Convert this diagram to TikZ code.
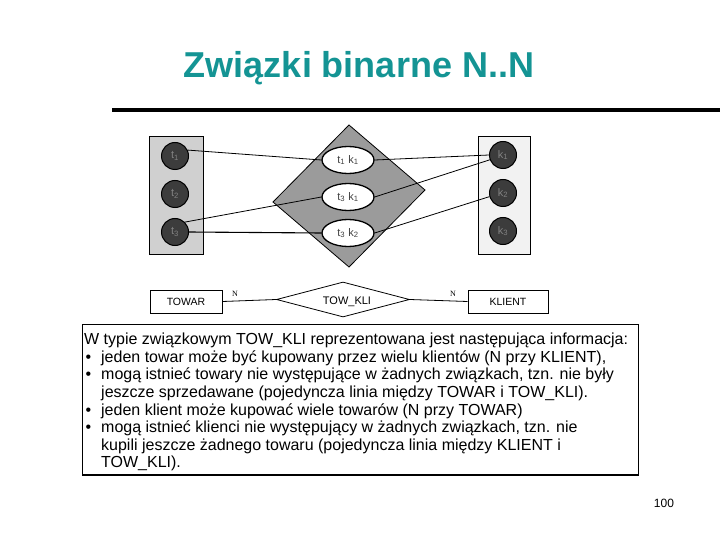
\documentclass[tikz,border=0pt]{standalone}
\usepackage{fontspec}
\setmainfont{Liberation Sans}
\newfontfamily\serifN{Liberation Serif}
\usetikzlibrary{shapes.geometric}
\definecolor{titleteal}{RGB}{20,148,148}
\definecolor{leftfill}{RGB}{208,208,208}
\definecolor{rightfill}{RGB}{242,242,242}
\definecolor{dotfill}{RGB}{60,60,60}
\definecolor{diafill}{RGB}{155,155,155}
\definecolor{lbl}{RGB}{130,130,130}
\tikzset{
  entbox/.style={draw=black, line width=1pt},
  dot/.style={circle, draw=black, line width=1pt, fill=dotfill, minimum size=27pt, inner sep=0pt, font=\fontsize{11}{12}\selectfont, text=lbl},
  pairell/.style={ellipse, draw=black, line width=1.3pt, fill=white, minimum width=52pt, minimum height=27pt, inner sep=0pt, font=\fontsize{11}{12}\selectfont, text=black!75},
  link/.style={draw=black, line width=0.8pt},
  erbox/.style={rectangle, draw=black, line width=1pt, minimum height=23pt, inner sep=0pt, font=\fontsize{10.5}{12}\selectfont},
  erdia/.style={diamond, draw=black, line width=0.8pt, minimum width=133pt, minimum height=35pt, inner sep=0pt, aspect=3.8},
  nlbl/.style={font=\serifN\fontsize{8}{9}\selectfont, inner sep=0pt},
}
\newcommand{\subi}[1]{\textsubscript{#1}}
\begin{document}
\begin{tikzpicture}[x=1pt,y=-1pt]
\useasboundingbox (0,0) rectangle (720,540);
% title
\node[font=\bfseries\fontsize{36}{40}\selectfont, text=titleteal] (title) at (359,68) {Związki binarne N..N};
\draw[line width=4pt] (112,110) -- (720,110);
% entity sets
\draw[entbox, fill=leftfill] (149.5,137) rectangle (203,254);
\draw[entbox, fill=rightfill] (478,137) rectangle (530,254);
% relationship set diamond
\draw[draw=black, line width=0.8pt, fill=diafill] (349,125) -- (425,190) -- (349,267) -- (273,202) -- cycle;
\node[dot] (t1) at (175,156) {t\subi{1}};
\node[dot] (t2) at (175,194) {t\subi{2}};
\node[dot] (t3) at (175,232) {t\subi{3}};
\node[dot] (k1) at (503,155) {k\subi{1}};
\node[dot] (k2) at (503,193) {k\subi{2}};
\node[dot] (k3) at (503,231) {k\subi{3}};
\node[pairell] (e1) at (348,160) {t\subi{1} k\subi{1}};
\node[pairell] (e2) at (348,197) {t\subi{3} k\subi{1}};
\node[pairell] (e3) at (348,233) {t\subi{3} k\subi{2}};
\draw[link] (t1.25) -- (e1.west);
\draw[link] (e1.east) -- (k1.west);
\draw[link] (e2.east) -- (k1.200);
\draw[link] (t3.45) -- (e2.west);
\draw[link, line width=1.1pt] (t3.east) -- (e3.west);
\draw[link] (e3.east) -- (k2.195);
% ER diagram
\node[erbox, minimum width=72pt] (towar) at (186,301.5) {TOWAR};
\node[erdia] (towkli) at (343,299.5) {};
\node[font=\fontsize{11}{12}\selectfont, inner sep=0pt] (towklit) at (347,301.5) {TOW\_KLI};
\node[erbox, minimum width=80pt] (klient) at (508,301.5) {KLIENT};
\draw[line width=0.8pt] (towar.east) -- (towkli.west);
\draw[line width=0.8pt] (towkli.east) -- (klient.west);
\node[nlbl] (n1) at (235,294) {N};
\node[nlbl] (n2) at (453,294) {N};
% description
\draw[line width=1.3pt] (82.5,324.5) rectangle (638.5,475);
\node[anchor=north west, align=left, inner sep=0pt, font=\fontsize{16}{17.6}\selectfont] (desc) at (84,333) {%
W typie związkowym TOW\_KLI reprezentowana jest następująca informacja:\\
\makebox[17pt][l]{\hspace{1.5pt}•}jeden towar może być kupowany przez wielu klientów (N przy KLIENT),\\
\makebox[17pt][l]{\hspace{1.5pt}•}mogą istnieć towary nie występujące w żadnych związkach, tzn. nie były\\
\hspace*{17pt}jeszcze sprzedawane (pojedyncza linia między TOWAR i TOW\_KLI).\\
\makebox[17pt][l]{\hspace{1.5pt}•}jeden klient może kupować wiele towarów (N przy TOWAR)\\
\makebox[17pt][l]{\hspace{1.5pt}•}mogą istnieć klienci nie występujący w żadnych związkach, tzn. nie\\
\hspace*{17pt}kupili jeszcze żadnego towaru (pojedyncza linia między KLIENT i\\
\hspace*{17pt}TOW\_KLI).};
\node[font=\fontsize{12}{14}\selectfont] (page) at (664,503) {100};
\end{tikzpicture}
\end{document}
